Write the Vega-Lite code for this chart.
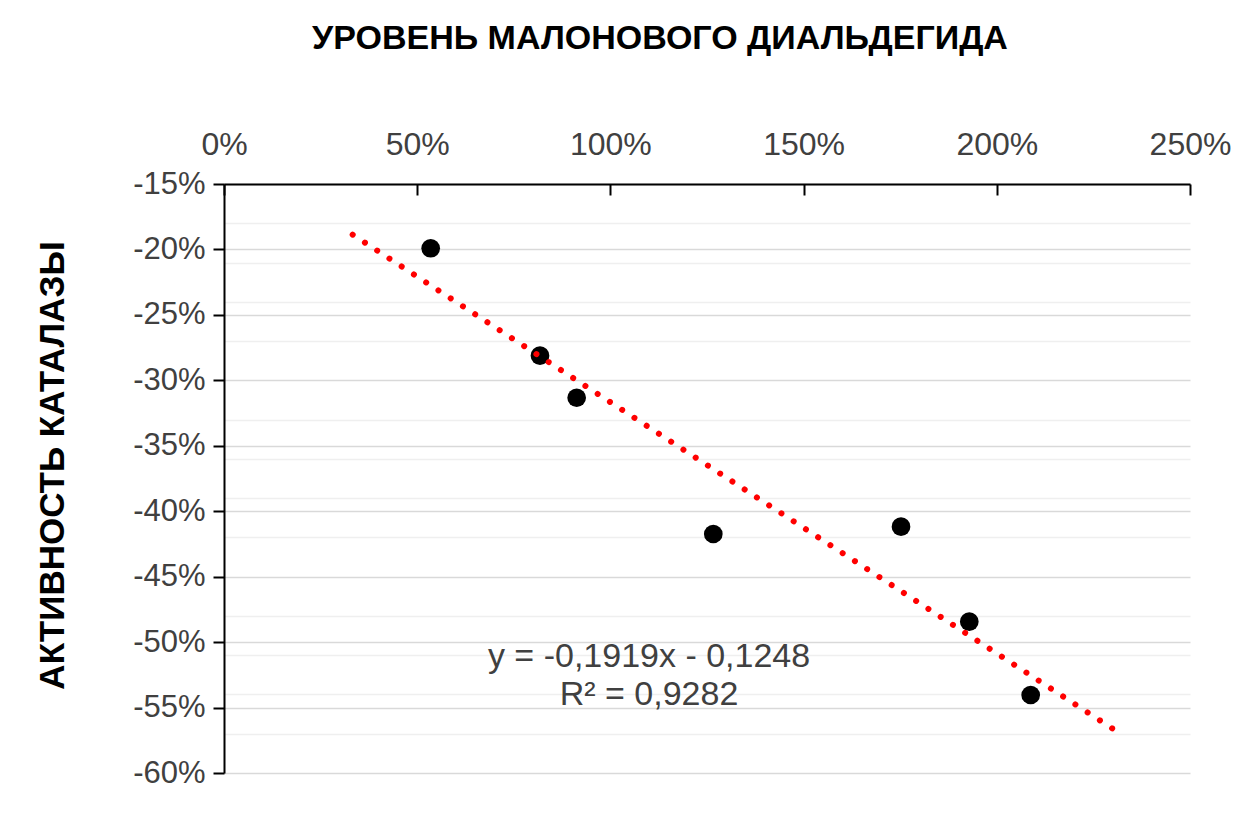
{
  "$schema": "https://vega.github.io/schema/vega-lite/v6.json",
  "width": 966,
  "height": 589,
  "autosize": {"type": "none"},
  "padding": {"left": 224, "top": 184, "right": 56, "bottom": 41},
  "background": "white",
  "config": {"view": {"stroke": null}, "font": "Liberation Sans"},
  "title": {
    "text": "УРОВЕНЬ МАЛОНОВОГО ДИАЛЬДЕГИДА",
    "fontSize": 34,
    "fontWeight": "bold",
    "font": "Liberation Sans",
    "color": "#000000",
    "anchor": "middle",
    "dx": -47,
    "offset": 72
  },
  "encoding": {
    "x": {
      "field": "x",
      "type": "quantitative",
      "scale": {"domain": [0, 2.5], "nice": false, "zero": false},
      "axis": {
        "orient": "top",
        "values": [0, 0.5, 1, 1.5, 2, 2.5],
        "format": ".0%",
        "grid": false,
        "title": null,
        "labelFlush": false,
        "domainColor": "#000000",
        "domainWidth": 2,
        "tickColor": "#000000",
        "tickWidth": 2,
        "tickSize": -11,
        "labelPadding": 34,
        "labelFontSize": 32,
        "labelFont": "Liberation Sans",
        "labelColor": "#404040"
      }
    },
    "y": {
      "field": "y",
      "type": "quantitative",
      "scale": {"domain": [-0.6, -0.15], "nice": false, "zero": false},
      "axis": {
        "orient": "left",
        "values": [-0.15, -0.18, -0.2, -0.21, -0.24, -0.25, -0.27, -0.3, -0.33, -0.35, -0.36, -0.39, -0.4, -0.42, -0.45, -0.48, -0.5, -0.51, -0.54, -0.55, -0.57, -0.6],
        "format": ".0%",
        "labelExpr": "round(datum.value*100)%5===0 ? replace(datum.label,'−','-') : ''",
        "labelFlush": false,
        "grid": true,
        "gridColor": {"condition": {"test": "round(datum.value*100)%5===0", "value": "#d9d9d9"}, "value": "#efefef"},
        "gridWidth": 1.5,
        "tickOpacity": {"condition": {"test": "round(datum.value*100)%5===0", "value": 1}, "value": 0},
        "domainColor": "#000000",
        "domainWidth": 2,
        "tickColor": "#000000",
        "tickWidth": 2,
        "tickSize": 11,
        "labelPadding": 8,
        "labelFontSize": 31,
        "labelFont": "Liberation Sans",
        "labelColor": "#404040",
        "title": "АКТИВНОСТЬ КАТАЛАЗЫ",
        "titleFontSize": 35,
        "titleFontWeight": "bold",
        "titleFont": "Liberation Sans",
        "titleColor": "#000000",
        "titlePadding": 62,
        "titleY": 281
      }
    }
  },
  "layer": [
    {
      "data": {"values": [
        {"x": 0.5349, "y": -0.1991},
        {"x": 0.8178, "y": -0.2812},
        {"x": 0.9127, "y": -0.3133},
        {"x": 1.2663, "y": -0.4174},
        {"x": 1.7521, "y": -0.4118},
        {"x": 1.9288, "y": -0.4844},
        {"x": 2.0877, "y": -0.5404}
      ]},
      "mark": {"type": "point", "shape": "circle", "filled": true, "color": "#000000", "size": 350, "opacity": 1}
    },
    {
      "data": {"values": [
        {"x": 0.333, "y": -0.188703},
        {"x": 2.315, "y": -0.569048}
      ]},
      "mark": {"type": "line", "color": "#ff0000", "strokeWidth": 6, "strokeCap": "round", "strokeDash": [0.01, 14.6]}
    },
    {
      "data": {"values": [
        {"x": 1.1, "y": -0.519, "label": "y = -0,1919x - 0,1248"},
        {"x": 1.1, "y": -0.548, "label": "R² = 0,9282"}
      ]},
      "mark": {"type": "text", "fontSize": 34, "font": "Liberation Sans", "color": "#404040", "align": "center", "baseline": "alphabetic"},
      "encoding": {"text": {"field": "label"}}
    }
  ]
}
